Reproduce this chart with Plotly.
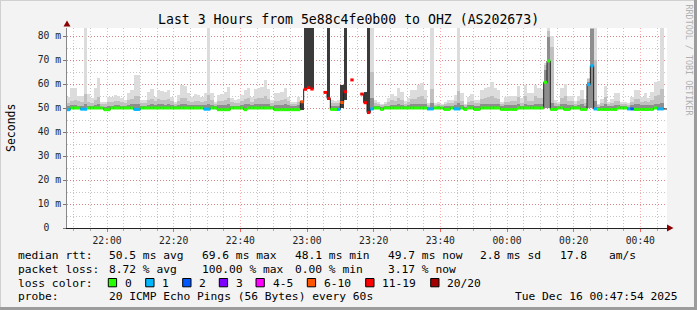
import plotly.graph_objects as go
from datetime import datetime, timedelta

# ---------------- data (one value per 60 s step, 21:48 -> 00:47) ----------------
START = datetime(2025, 12, 15, 21, 48, 0)
END = datetime(2025, 12, 16, 0, 48, 0)

median_ms = [
    49.3, 50.0, 50.0, 50.0, 49.5, 49.5, 50.0, 50.0, 50.0, 50.0,
    50.0, 49.3, 49.3, 50.0, 50.0, 50.0, 50.0, 50.0, 50.0, 50.0,
    49.4, 49.4, 50.0, 50.0, 50.0, 50.0, 50.0, 50.0, 50.0, 50.0,
    50.0, 50.0, 50.0, 50.0, 50.0, 50.0, 50.0, 50.0, 50.0, 50.0,
    50.0, 49.5, 49.5, 50.0, 50.0, 49.3, 49.3, 49.3, 49.3, 50.0,
    50.0, 50.0, 50.0, 49.3, 50.0, 50.0, 50.0, 50.0, 50.0, 50.0,
    50.0, 50.0, 49.3, 49.3, 49.3, 49.3, 49.3, 49.3, 49.3, 49.3,
    52.6, 57.8, 58.5, 57.9, None, None, None, 56.5, 54.0, 49.4,
    49.4, 49.4, 52.3, 56.8, None, 61.7, None, None, 55.8, 52.2,
    48.1, 49.6, 50.0, 50.0, 49.4, 50.0, 50.0, 50.0, 50.0, 50.0,
    50.0, 50.0, 50.0, 50.0, 50.0, 50.0, 50.0, 50.0, 49.6, 49.6,
    50.0, 50.0, 50.0, 49.4, 49.4, 50.0, 49.6, 49.6, 50.0, 49.4,
    50.0, 50.0, 49.4, 49.4, 50.0, 50.0, 50.0, 50.0, 50.0, 50.0,
    49.4, 49.4, 49.4, 49.4, 49.4, 50.0, 50.0, 50.0, 50.0, 50.0,
    50.0, 50.0, 50.0, 60.7, 69.6, 49.4, 49.4, 50.0, 50.0, 49.4,
    49.4, 50.0, 50.0, 50.0, 49.4, 49.4, 59.8, 67.6, 49.6, 49.4,
    49.4, 49.4, 49.4, 49.4, 49.4, 50.0, 50.0, 50.0, 49.6, 49.6,
    49.4, 49.4, 49.4, 49.4, 49.4, 49.4, 50.0, 49.6, 49.6,
]

loss_pings = [
    1, 0, 0, 0, 1, 1, 0, 0, 0, 0,
    0, 0, 0, 0, 0, 0, 0, 0, 0, 0,
    1, 1, 0, 0, 0, 0, 0, 0, 0, 0,
    0, 0, 0, 0, 0, 0, 0, 0, 0, 0,
    0, 1, 1, 0, 0, 0, 0, 0, 0, 0,
    0, 0, 0, 0, 0, 0, 0, 0, 0, 0,
    0, 0, 0, 0, 0, 0, 0, 0, 0, 0,
    8, 15, 14, 15, 20, 20, 20, 14, 13, 0,
    0, 1, 7, 12, 20, 18, 20, 20, 16, 12,
    13, 1, 0, 0, 0, 0, 0, 0, 0, 0,
    0, 0, 0, 0, 0, 0, 0, 0, 1, 1,
    0, 0, 0, 0, 0, 0, 1, 1, 0, 0,
    0, 0, 0, 0, 0, 0, 0, 0, 0, 0,
    0, 0, 0, 0, 0, 0, 0, 0, 0, 0,
    0, 0, 0, 0, 0, 0, 0, 0, 0, 0,
    0, 0, 0, 0, 0, 0, 1, 1, 1, 0,
    0, 0, 0, 0, 0, 0, 0, 0, 1, 2,
    0, 0, 0, 0, 0, 0, 0, 1, 1,
]

ping_min = [
    49.4, 49.4, 49.4, 49.4, 49.4, 49.4, 49.4, 49.4, 49.4, 49.4,
    49.4, 49.4, 49.4, 49.4, 49.4, 49.4, 49.4, 49.4, 49.4, 49.4,
    49.4, 49.4, 49.4, 49.4, 49.4, 49.4, 49.4, 49.4, 49.4, 49.4,
    49.4, 49.4, 49.4, 49.4, 49.4, 49.4, 49.4, 49.4, 49.4, 49.4,
    49.4, 49.4, 49.4, 49.4, 49.4, 49.4, 49.4, 49.4, 49.4, 49.4,
    49.4, 49.4, 49.4, 49.4, 49.4, 49.4, 49.4, 49.4, 49.4, 49.4,
    49.4, 49.4, 49.4, 49.4, 49.4, 49.4, 49.4, 49.4, 49.4, 49.4,
    49.0, 57.8, 58.5, 57.9, None, None, None, None, 53.5, 49.4,
    49.4, 49.4, 49.9, 53.3, None, None, None, None, None, 52.2,
    48.1, 49.4, 49.4, 49.4, 49.4, 49.4, 49.4, 49.4, 49.4, 49.4,
    49.4, 49.4, 49.4, 49.4, 49.4, 49.4, 49.4, 49.4, 49.4, 49.4,
    49.4, 49.4, 49.4, 49.4, 49.4, 49.4, 49.4, 49.4, 49.4, 49.4,
    49.4, 49.4, 49.4, 49.4, 49.4, 49.4, 49.4, 49.4, 49.4, 49.4,
    49.4, 49.4, 49.4, 49.4, 49.4, 49.4, 49.4, 49.4, 49.4, 49.4,
    49.4, 49.4, 49.4, 49.9, 49.9, 49.4, 49.4, 49.4, 49.4, 49.4,
    49.4, 49.4, 49.4, 49.4, 49.4, 49.4, 49.9, 49.8, 49.4, 49.4,
    49.4, 49.4, 49.4, 49.4, 49.4, 49.4, 49.4, 49.4, 49.4, 49.4,
    49.4, 49.4, 49.4, 49.4, 49.4, 49.4, 49.4, 49.4, 49.4,
]

smoke_low = [
    50.8, 51.2, 51.4, 51.0, 51.0, 51.8, 51.0, 50.8, 51.3, 51.6,
    50.6, 50.6, 51.0, 51.0, 51.2, 51.2, 51.0, 50.8, 51.4, 51.5,
    51.8, 51.8, 50.9, 50.9, 51.4, 51.5, 51.2, 51.6, 51.5, 51.4,
    51.5, 51.2, 50.8, 51.2, 51.6, 51.6, 51.3, 51.2, 51.3, 51.2,
    51.2, 51.3, 51.8, 51.3, 50.7, 51.2, 51.3, 51.4, 51.6, 51.0,
    50.9, 51.0, 51.3, 51.5, 51.6, 51.2, 51.5, 51.6, 51.6, 51.8,
    51.5, 50.9, 51.3, 51.3, 51.4, 51.5, 51.2, 50.8, 50.8, 51.1,
    53.0, 90.0, 90.0, 90.0, None, None, None, None, 90.0, 50.8,
    50.8, 50.9, 59.6, 90.0, None, None, None, None, None, 56.5,
    90.0, 54.0, 50.9, 50.7, 50.5, 50.7, 51.0, 51.4, 51.2, 51.6,
    51.4, 50.8, 51.1, 51.5, 51.5, 51.7, 51.8, 51.5, 50.6, 52.0,
    50.6, 50.7, 50.5, 50.7, 50.9, 50.9, 51.2, 52.0, 51.3, 50.5,
    51.2, 51.3, 50.9, 50.9, 51.5, 51.6, 51.7, 51.8, 51.6, 51.5,
    50.7, 51.1, 51.2, 51.2, 51.2, 51.7, 51.0, 51.7, 51.3, 51.3,
    51.7, 51.6, 51.6, 66.0, 79.7, 52.0, 50.9, 50.7, 51.6, 51.7,
    51.2, 51.2, 50.8, 51.2, 51.5, 51.0, 61.0, 83.0, 53.0, 50.6,
    51.0, 51.6, 50.7, 51.0, 51.3, 51.3, 50.7, 50.7, 50.6, 51.2,
    51.5, 51.5, 51.2, 51.3, 51.1, 51.4, 51.8, 51.8, 52.0,
]

smoke_mid = [
    52.0, 53.0, 53.5, 52.8, 52.5, 56.0, 52.6, 52.2, 53.5, 54.5,
    51.5, 51.6, 52.3, 52.5, 52.8, 53.0, 52.4, 52.0, 53.2, 53.6,
    55.0, 54.8, 52.2, 52.0, 53.2, 53.8, 52.8, 53.6, 53.5, 53.3,
    53.8, 52.8, 51.8, 52.9, 54.2, 54.0, 53.0, 52.6, 53.0, 52.8,
    52.6, 53.1, 55.5, 53.2, 51.8, 52.8, 53.0, 53.4, 54.0, 52.4,
    52.0, 52.2, 52.9, 53.6, 54.0, 52.7, 53.8, 54.0, 54.2, 55.0,
    53.6, 52.0, 53.0, 53.0, 53.4, 53.8, 52.8, 51.8, 51.8, 52.6,
    53.0, 90.0, 90.0, 90.0, None, None, None, None, 90.0, 52.0,
    52.0, 52.2, 59.6, 90.0, None, None, None, None, None, 56.5,
    90.0, 65.0, 52.0, 51.7, 51.2, 51.6, 52.4, 53.2, 52.8, 54.2,
    53.4, 51.8, 52.5, 53.6, 53.6, 54.5, 55.0, 53.6, 51.3, 58.0,
    51.3, 51.5, 51.2, 51.5, 52.0, 52.0, 52.9, 57.0, 53.0, 51.2,
    52.6, 53.0, 52.0, 52.0, 53.6, 54.2, 54.4, 55.2, 54.0, 53.6,
    51.7, 52.5, 52.7, 52.8, 52.8, 54.5, 52.2, 54.8, 53.0, 53.0,
    54.8, 54.0, 54.0, 68.0, 82.0, 75.6, 52.0, 51.6, 54.2, 54.8,
    52.8, 52.8, 51.8, 52.8, 53.6, 52.1, 62.0, 85.0, 70.0, 51.2,
    52.1, 54.5, 51.6, 52.1, 53.0, 53.0, 51.6, 51.6, 51.3, 52.6,
    53.6, 53.6, 52.6, 53.0, 52.5, 53.4, 55.2, 55.4, 58.0,
]

ping_max = [
    54.5, 58.2, 58.2, 55.2, 54.8, 90.0, 55.9, 54.0, 58.2, 62.4,
    52.6, 52.6, 54.5, 54.5, 55.4, 55.2, 54.0, 53.3, 56.1, 57.5,
    63.8, 63.8, 53.3, 53.3, 56.8, 57.9, 54.7, 57.5, 57.2, 56.8,
    57.5, 54.7, 52.6, 55.4, 59.6, 59.0, 56.1, 54.7, 55.8, 55.4,
    54.7, 56.1, 90.0, 56.1, 52.6, 55.4, 55.7, 56.8, 58.9, 54.0,
    53.3, 53.7, 55.4, 57.5, 58.5, 54.7, 57.9, 58.2, 58.9, 61.7,
    57.9, 53.3, 56.1, 56.1, 56.8, 58.2, 54.7, 52.6, 52.6, 54.7,
    53.0, 90.0, 90.0, 90.0, None, None, None, None, 90.0, 53.3,
    53.0, 53.3, 59.6, 90.0, None, None, None, None, None, 56.5,
    90.0, 90.0, 53.3, 52.6, 51.7, 52.4, 54.0, 55.8, 55.1, 58.5,
    56.8, 52.9, 54.3, 57.5, 57.4, 59.6, 60.3, 57.5, 52.0, 90.0,
    52.0, 52.4, 51.6, 52.4, 53.3, 53.3, 55.4, 90.0, 56.1, 51.7,
    54.7, 55.7, 53.3, 53.3, 57.5, 58.5, 58.9, 61.0, 58.2, 57.5,
    52.6, 54.4, 55.0, 55.1, 55.1, 59.2, 54.0, 59.6, 56.1, 56.1,
    59.6, 58.2, 58.0, 68.6, 90.0, 80.0, 53.3, 52.6, 58.5, 59.9,
    55.1, 55.1, 52.9, 55.1, 57.5, 53.8, 62.4, 90.0, 90.0, 51.7,
    53.8, 59.2, 52.6, 53.8, 56.1, 56.1, 52.6, 52.6, 52.0, 54.7,
    57.5, 57.5, 54.7, 56.1, 54.3, 56.8, 61.0, 61.3, 90.0,
]

y_tick_vals = [0, 10, 20, 30, 40, 50, 60, 70, 80]
y_tick_text = ["0\u00a0\u00a0", "10 m", "20 m", "30 m", "40 m", "50 m", "60 m", "70 m", "80 m"]

loss_bins = [(0, 0, "#26ff00", "0"), (1, 1, "#00b8ff", "1"), (2, 2, "#0059ff", "2"),
             (3, 3, "#7e00ff", "3"), (4, 5, "#ff00ff", "4-5"), (6, 10, "#ff5500", "6-10"),
             (11, 19, "#ff0000", "11-19"), (20, 20, "#a10000", "20/20")]

title_text = "Last 3 Hours from 5e88c4fe0b00 to OHZ (AS202673)"
rtt_stats = ["50.5 ms avg", "69.6 ms max", "48.1 ms min", "49.7 ms now", "2.8 ms sd", "17.8", "am/s"]
loss_stats = ["8.72 % avg", "100.00 % max", "0.00 % min", "3.17 % now"]
probe_text = "20 ICMP Echo Pings (56 Bytes) every 60s"
stamp_text = "Tue Dec 16 00:47:54 2025"

n = len(median_ms)
for arr in (loss_pings, ping_min, smoke_low, smoke_mid, ping_max):
    assert len(arr) == n, len(arr)

# ---------------- geometry helpers ----------------
W, H = 697, 310
PL, PR, PT, PB = 67, 667, 28, 228
def px(x):
    return (x - PL) / (PR - PL)
def py(y):
    return (PB - y) / (PB - PT)

FONT = "DejaVu Sans Mono"
step = timedelta(seconds=60)
starts = [START + i * step for i in range(n)]
centers = [s + step / 2 for s in starts]

fig = go.Figure()

def band(top_arr, color, use_high_loss):
    xs, ys, bs = [], [], []
    for i in range(n):
        hi = top_arr[i]
        lo = ping_min[i]
        if hi is None or lo is None:
            continue
        high = loss_pings[i] >= 6
        if high != use_high_loss:
            continue
        xs.append(centers[i]); ys.append(hi - lo); bs.append(lo)
    fig.add_trace(go.Bar(x=xs, y=ys, base=bs, width=60000, marker_color=color,
                         marker_line_width=0, hoverinfo="skip", showlegend=False))

band(ping_max, "#dcdcdc", False)
band(smoke_mid, "#c0c0c0", False)
band(smoke_low, "#8e8e8e", False)
band(ping_max, "#3a3a3a", True)

# median dark connecting line
mx = starts + [END]
my = median_ms + [median_ms[-1]]
fig.add_trace(go.Scatter(x=mx, y=my, mode="lines", line=dict(color="#202020", width=1, shape="hv"),
                         connectgaps=False, hoverinfo="skip", showlegend=False))

# coloured median segments by loss
for lo_b, hi_b, col, _ in loss_bins:
    xs, ys = [], []
    for i in range(n):
        if median_ms[i] is None:
            continue
        if lo_b <= loss_pings[i] <= hi_b:
            xs += [starts[i], starts[i] + step, None]
            ys += [median_ms[i], median_ms[i], None]
    if xs:
        fig.add_trace(go.Scatter(x=xs, y=ys, mode="lines", line=dict(color=col, width=3),
                                 hoverinfo="skip", showlegend=False))

RED_GRID = "rgba(255,0,0,0.33)"
GRAY_GRID = "rgba(120,120,120,0.42)"

fig.update_xaxes(
    type="date", range=[START, END], showgrid=True, gridcolor=RED_GRID, griddash="1px,2px", gridwidth=1,
    tick0=datetime(2025, 12, 15, 22, 0), dtick=20 * 60 * 1000, tickformat="%H:%M",
    ticks="outside", ticklen=3, tickcolor="rgba(255,0,0,0.6)",
    showline=True, linecolor="#222222", linewidth=1, zeroline=False,
    tickfont=dict(family=FONT, size=9.7, color="#222222"),
    minor=dict(dtick=5 * 60 * 1000, tick0=datetime(2025, 12, 15, 22, 0), showgrid=True,
               gridcolor=GRAY_GRID, griddash="1px,2px", ticks="outside", ticklen=2, tickcolor="#aaaaaa"),
)
fig.update_yaxes(
    range=[0, 83.333], tickvals=y_tick_vals, ticktext=y_tick_text, showgrid=True,
    gridcolor=RED_GRID, griddash="1px,2px", gridwidth=1, zeroline=False,
    ticks="outside", ticklen=3, tickcolor="#777777",
    showline=True, linecolor="#888888", linewidth=1,
    tickfont=dict(family=FONT, size=9.7, color="#222222"),
    minor=dict(dtick=5, showgrid=True, gridcolor=GRAY_GRID, griddash="1px,2px"),
)

shapes = []
# axis arrows
shapes.append(dict(type="path", xref="paper", yref="paper", layer="above",
                   path=f"M {px(63.5)} {py(26.5)} L {px(70.5)} {py(26.5)} L {px(67)} {py(20.5)} Z",
                   fillcolor="#8b0000", line=dict(width=0)))
shapes.append(dict(type="path", xref="paper", yref="paper", layer="above",
                   path=f"M {px(667)} {py(224.5)} L {px(667)} {py(231.5)} L {px(673.5)} {py(228)} Z",
                   fillcolor="#8b0000", line=dict(width=0)))
shapes.append(dict(type="line", xref="paper", yref="paper", x0=px(PR), x1=px(668), y0=py(PB), y1=py(PB),
                   line=dict(color="#222222", width=1)))
# frame
shapes.append(dict(type="line", xref="paper", yref="paper", x0=px(0), x1=px(W), y0=py(0.5), y1=py(0.5),
                   line=dict(color="#d0d0d0", width=1)))
shapes.append(dict(type="line", xref="paper", yref="paper", x0=px(0.5), x1=px(0.5), y0=py(0), y1=py(H),
                   line=dict(color="#d0d0d0", width=1)))
shapes.append(dict(type="line", xref="paper", yref="paper", x0=px(0), x1=px(W), y0=py(H - 1.5), y1=py(H - 1.5),
                   line=dict(color="#9c9c9c", width=3)))
shapes.append(dict(type="line", xref="paper", yref="paper", x0=px(W - 1.5), x1=px(W - 1.5), y0=py(0), y1=py(H),
                   line=dict(color="#9c9c9c", width=3)))

annotations = []
def text(x, y, s, anchor="left", size=11.25, color="#000000", angle=0):
    annotations.append(dict(xref="paper", yref="paper", x=px(x), y=py(y), text=s, showarrow=False,
                            xanchor=anchor, yanchor="middle", textangle=angle,
                            font=dict(family=FONT, size=size, color=color)))

text(348.5, 19.5, title_text, anchor="center", size=13.2)
text(11, 128, "Seconds", anchor="center", size=11.5, angle=-90)
text(688.5, 60, "RRDTOOL / TOBI OETIKER", anchor="center", size=8.4, color="#b0b0b0", angle=90)

ROW = [255, 269, 283, 296.5]
text(16, ROW[0], "median rtt:")
for s, x in zip(rtt_stats, [107.3, 200, 293.3, 386, 478.3, 558, 606.7]):
    text(x, ROW[0], s)
text(16, ROW[1], "packet loss:")
for s, x in zip(loss_stats, [107.3, 200, 293.3, 386]):
    text(x, ROW[1], s)
text(16, ROW[2], "loss color:")
for (lo_b, hi_b, col, lab), bx in zip(loss_bins, [108.3, 145.7, 182.7, 219.3, 256, 307.3, 365.7, 430.7]):
    shapes.append(dict(type="rect", xref="paper", yref="paper", x0=px(bx), x1=px(bx + 8.3),
                       y0=py(278.5 + 8.3), y1=py(278.5), fillcolor=col, line=dict(color="#000000", width=1)))
    text(bx + 14.7, ROW[2], lab)
text(16, ROW[3], "probe:")
text(107.3, ROW[3], probe_text)
text(680, ROW[3], stamp_text, anchor="right")

fig.update_layout(
    width=W, height=H, margin=dict(l=PL, r=W - PR, t=PT, b=H - PB),
    paper_bgcolor="#f3f3f3", plot_bgcolor="#ffffff",
    barmode="overlay", bargap=0, showlegend=False,
    shapes=shapes, annotations=annotations,
    font=dict(family=FONT),
)

fig.write_html("out.html")
